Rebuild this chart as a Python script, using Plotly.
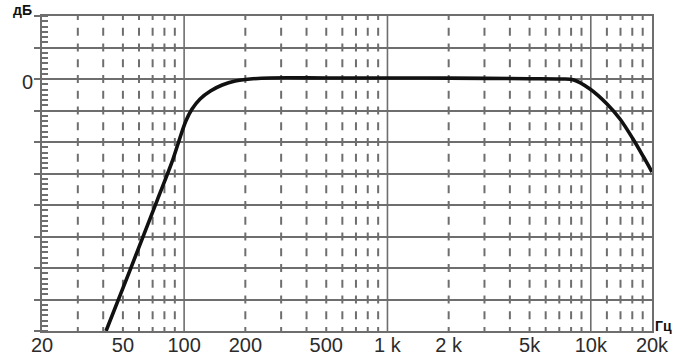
import numpy as np
import plotly.graph_objects as go

# ---- data ----
freq_hz = [41.3, 54.2, 73.7, 87.2, 95.0, 102.0, 109.4, 119.8, 134.7, 153.9, 178.3, 211.0, 265.3,
           500, 1000, 2000, 5000, 7058, 8178, 9910, 12016, 13920, 16132, 18060, 20000]
gain_db = [-24.0, -18.2, -11.55, -7.9, -5.71, -4.0, -2.86, -1.9, -1.14, -0.57, -0.19, 0.0, 0.1,
           0.1, 0.1, 0.08, 0.03, 0.0, -0.07, -0.95, -2.38, -3.81, -5.71, -7.33, -8.86]

x_tick_vals = [20, 50, 100, 200, 500, 1000, 2000, 5000, 10000, 20000]
x_tick_text = ["20", "50", "100", "200", "500", "1 k", "2 k", "5k", "10k", "20k"]
major_freqs = [100, 1000, 10000]
minor_freqs = [30, 40, 50, 60, 70, 80, 90,
               200, 300, 400, 500, 600, 700, 800, 900,
               2000, 3000, 4000, 5000, 6000, 7000, 8000, 9000,
               12000, 14000, 16000, 18000]
y_min, y_max, y_step = -24, 6, 3

GRID = "#6e6e6e"
TXT = "#2b2b2b"

fig = go.Figure()

# dashed minor verticals
dx, dy = [], []
half = 0.38
centers = np.arange(y_min, y_max + 0.01, y_step / 2)
for f in minor_freqs:
    for c in centers:
        a, b = max(y_min, c - half), min(y_max, c + half)
        dx += [f, f, None]
        dy += [a, b, None]
fig.add_trace(go.Scatter(x=dx, y=dy, mode="lines", line=dict(color=GRID, width=2),
                         hoverinfo="skip", showlegend=False))

# solid major verticals
vx, vy = [], []
for f in major_freqs:
    vx += [f, f, None]
    vy += [y_min, y_max, None]
fig.add_trace(go.Scatter(x=vx, y=vy, mode="lines", line=dict(color=GRID, width=1.6),
                         hoverinfo="skip", showlegend=False))

# response curve
fig.add_trace(go.Scatter(x=freq_hz, y=gain_db, mode="lines",
                         line=dict(color="#111111", width=3.6, shape="spline", smoothing=0.9),
                         showlegend=False))

fig.update_layout(
    width=679, height=357,
    margin=dict(l=42, r=27, t=16, b=26),
    paper_bgcolor="white", plot_bgcolor="white",
    font=dict(family="Liberation Sans, Arial, sans-serif", color=TXT),
    xaxis=dict(type="log", range=[np.log10(20), np.log10(20000)], automargin=False,
               tickvals=x_tick_vals, ticktext=x_tick_text, ticks="",
               ticklabelstandoff=-5,
               showgrid=False, zeroline=False,
               showline=True, linecolor=GRID, linewidth=2, mirror=True,
               tickfont=dict(size=20, color=TXT)),
    yaxis=dict(range=[y_min, y_max], dtick=y_step, tick0=0, automargin=False,
               showticklabels=False, ticks="outside", ticklen=6, tickwidth=2, tickcolor=GRID,
               showgrid=True, gridcolor=GRID, gridwidth=2, zeroline=False,
               showline=True, linecolor=GRID, linewidth=2, mirror=True,
               minor=dict(dtick=0.5, ticks="inside", ticklen=6, tickwidth=1.5,
                          tickcolor=GRID, showgrid=False)),
    annotations=[
        dict(text="0", xref="paper", x=0, xanchor="right", xshift=-7,
             yref="y", y=0, yanchor="middle", yshift=-3, showarrow=False,
             font=dict(size=20, color=TXT)),
        dict(text="<b>дБ</b>", xref="paper", x=0, xanchor="right", xshift=-8,
             yref="paper", y=1, yanchor="middle", yshift=6, showarrow=False,
             font=dict(size=14, color="#111111")),
        dict(text="<b>Гц</b>", xref="paper", x=1, xanchor="left", xshift=1,
             yref="paper", y=0, yanchor="middle", yshift=5, showarrow=False,
             font=dict(size=14, color="#111111")),
    ],
)

fig.write_html("out.html")
